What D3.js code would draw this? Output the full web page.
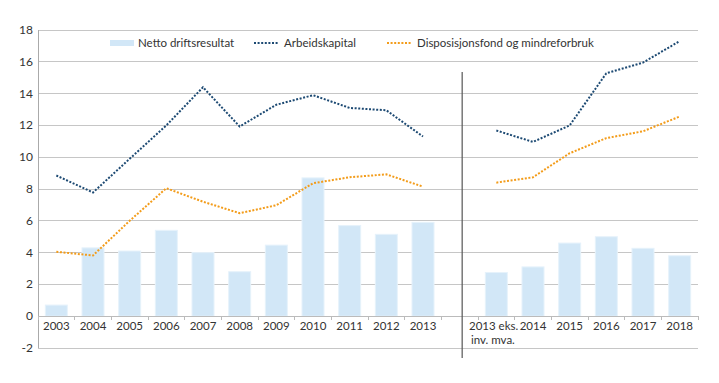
<!DOCTYPE html>
<html><head><meta charset="utf-8">
<script src="https://cdn.jsdelivr.net/npm/d3@7"></script>
<style>
body{margin:0;background:#fff;}
text{font-family:Lato,"Open Sans",sans-serif;fill:#333;}
</style></head>
<body>
<svg id="c" width="719" height="383"></svg>
<script>
const categories = ["2003","2004","2005","2006","2007","2008","2009","2010","2011","2012","2013","", "2013 eks.|inv. mva.","2014","2015","2016","2017","2018"];
const netto = [0.7,4.3,4.1,5.4,4.0,2.8,4.47,8.7,5.7,5.15,5.9,null,2.75,3.1,4.6,5.0,4.27,3.8];
const arbeid = [8.85,7.78,9.9,12.0,14.4,11.93,13.3,13.9,13.1,12.95,11.3,null,11.68,10.96,12.0,15.28,15.95,17.3];
const dispo = [4.05,3.82,6.0,8.05,7.2,6.48,6.98,8.36,8.74,8.92,8.15,null,8.4,8.74,10.25,11.2,11.63,12.56];
const yTicks = [-2,0,2,4,6,8,10,12,14,16,18];
const seriesNames = ["Netto driftsresultat","Arbeidskapital","Disposisjonsfond og mindreforbruk"];

const FS = 11.5;
const svg = d3.select("#c");
const L=38, R=698, T=30, B=348;
const xs = d3.scaleBand().domain(d3.range(categories.length)).range([L,R]);
const y = d3.scaleLinear().domain([-2,18]).range([B,T]);
const cx = i => xs(i)+xs.bandwidth()/2;

// gridlines
svg.append("g").selectAll("line").data(yTicks).join("line")
  .attr("x1",L).attr("x2",R).attr("y1",d=>y(d)).attr("y2",d=>y(d))
  .attr("stroke","#c6c6c6").attr("stroke-width",1).attr("shape-rendering","crispEdges");
// y axis
svg.append("line").attr("x1",L).attr("x2",L).attr("y1",T).attr("y2",B).attr("stroke","#aaa").attr("shape-rendering","crispEdges");
svg.append("g").selectAll("text").data(yTicks).join("text")
  .attr("x",L-5).attr("y",d=>y(d)+4).attr("text-anchor","end").attr("font-size",FS+0.5).text(d=>d);

// bars
svg.append("g").selectAll("rect").data(netto.map((v,i)=>({v,i})).filter(d=>d.v!=null)).join("rect")
  .attr("x",d=>cx(d.i)-11).attr("width",22)
  .attr("y",d=>y(d.v)).attr("height",d=>y(0)-y(d.v))
  .attr("fill","#d2e7f7").attr("stroke","#e6f2fb").attr("stroke-width",1);

// x axis line at 0
svg.append("line").attr("x1",L).attr("x2",R).attr("y1",y(0)).attr("y2",y(0)).attr("stroke","#bbb").attr("shape-rendering","crispEdges");
svg.append("g").selectAll("line").data(d3.range(categories.length+1)).join("line")
  .attr("x1",i=>L+i*xs.step()).attr("x2",i=>L+i*xs.step()).attr("y1",y(0)).attr("y2",y(0)+4)
  .attr("stroke","#bbb").attr("shape-rendering","crispEdges");
svg.append("g").selectAll("text").data(categories.map((c,i)=>({c,i}))).join("text")
  .attr("y",y(0)+14).attr("font-size",FS)
  .each(function(d){
    const parts=d.c.split("|");
    const t=d3.select(this);
    if(parts.length==1){
      t.attr("x",cx(d.i)).attr("text-anchor","middle").text(parts[0]);
    } else {
      parts.forEach((p,k)=>{
        t.append("tspan").attr("x",xs(d.i)-9+(k?2:0)).attr("dy",k==0?0:14).text(p);
      });
    }
  });

// separator
const sx = cx(11)+2.5;
svg.append("line").attr("x1",sx).attr("x2",sx).attr("y1",72).attr("y2",358)
  .attr("stroke","#555").attr("stroke-width",1.2);

// lines
const line = d3.line().defined(d=>d.v!=null).x(d=>cx(d.i)).y(d=>y(d.v));
function drawLine(arr,color){
  svg.append("path").datum(arr.map((v,i)=>({v,i}))).attr("d",line)
   .attr("fill","none").attr("stroke",color).attr("stroke-width",2).attr("stroke-dasharray","2,1.6");
}
drawLine(arbeid,"#1d4a73");
drawLine(dispo,"#f39c1a");

// legend
const lg = svg.append("g");
lg.append("rect").attr("x",110).attr("y",40).attr("width",24).attr("height",6).attr("fill","#d2e7f7");
lg.append("text").attr("x",138).attr("y",47).attr("font-size",FS).text(seriesNames[0]);
lg.append("line").attr("x1",254).attr("x2",278).attr("y1",43).attr("y2",43).attr("stroke","#1d4a73").attr("stroke-width",2).attr("stroke-dasharray","2,1.6");
lg.append("text").attr("x",284).attr("y",47).attr("font-size",FS).text(seriesNames[1]);
lg.append("line").attr("x1",387).attr("x2",412).attr("y1",43).attr("y2",43).attr("stroke","#f39c1a").attr("stroke-width",2).attr("stroke-dasharray","2,1.6");
lg.append("text").attr("x",417).attr("y",47).attr("font-size",FS).text(seriesNames[2]);
</script>
</body></html>
